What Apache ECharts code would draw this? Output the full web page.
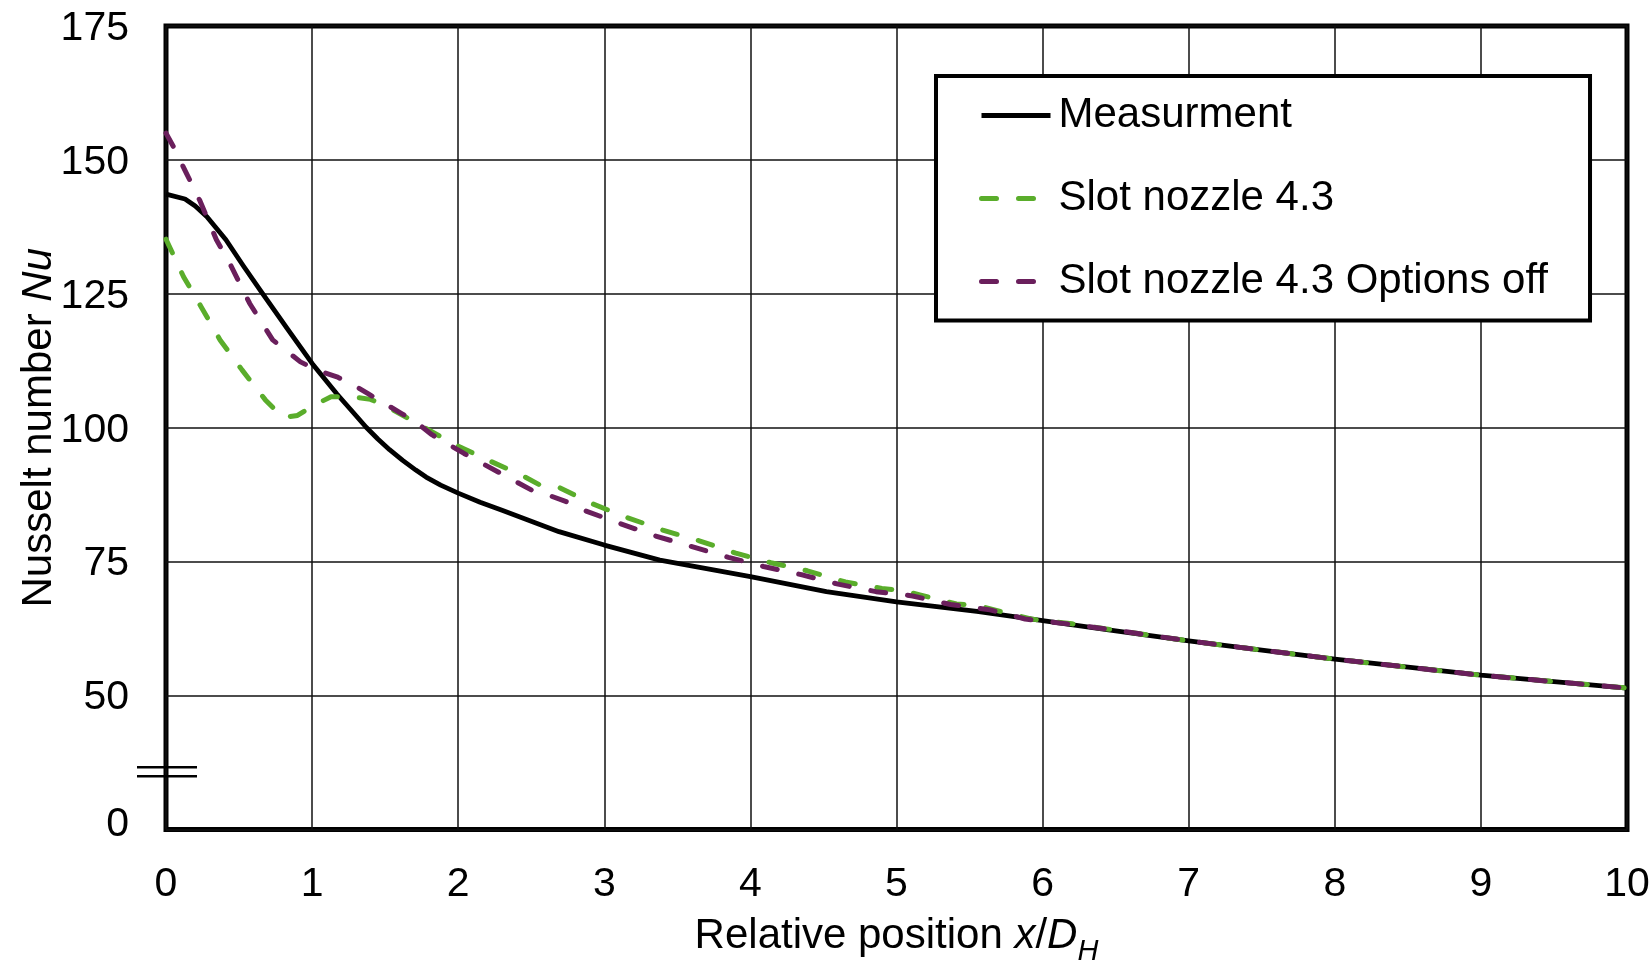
<!DOCTYPE html>
<html>
<head>
<meta charset="utf-8">
<script src="https://cdn.jsdelivr.net/npm/echarts@6/dist/echarts.min.js"></script>
<style>
  html, body { margin: 0; padding: 0; background: #fff; }
  #nu-chart { width: 1651px; height: 962px; }
</style>
</head>
<body>
<div id="nu-chart"></div>
<script>
// axis ticks (the bottom tick 25 is shown as "0" because of the axis break)
const xTicks = [0, 1, 2, 3, 4, 5, 6, 7, 8, 9, 10]
const yTicks = [25, 50, 75, 100, 125, 150, 175]

// Measurment
const measX = [0, 0.13, 0.2, 0.28, 0.41, 0.53, 0.66, 0.83, 1.0, 1.17, 1.28, 1.37, 1.45, 1.53, 1.62, 1.71, 1.78, 1.88, 2.0, 2.15, 2.3, 2.69, 3.0, 3.38, 4.0, 4.52, 5.0, 5.55, 6.0, 6.5, 7.0, 7.5, 8.0, 8.58, 9.0, 9.5, 10]
const measY = [143.6, 142.7, 141.4, 139.4, 135.1, 130.2, 125.1, 118.5, 112.0, 106.3, 102.9, 100.1, 97.9, 95.9, 93.9, 92.1, 90.8, 89.3, 87.8, 86.1, 84.6, 80.6, 78.1, 75.3, 72.2, 69.4, 67.5, 65.7, 64.0, 62.1, 60.2, 58.5, 56.8, 55.1, 53.8, 52.6, 51.4]

// Slot nozzle 4.3
const slotX = [0, 0.12, 0.24, 0.37, 0.52, 0.68, 0.8, 0.9, 1.0, 1.13, 1.27, 1.4, 1.51, 1.74, 1.96, 2.2, 2.43, 2.56, 2.68, 2.91, 3.15, 3.4, 3.65, 3.9, 4.14, 4.39, 4.65, 4.9, 5.04, 5.16, 5.41, 5.56, 5.67, 5.92, 6.2, 6.5, 7, 7.5, 8, 8.5, 9, 9.5, 10]
const slotY = [135.2, 128.2, 122.6, 116.4, 110.8, 105.2, 101.9, 102.3, 104.0, 105.8, 105.8, 105.3, 104.0, 100.5, 97.1, 94.0, 91.2, 89.3, 89.0, 85.9, 83.3, 80.9, 78.9, 76.6, 74.8, 73.3, 71.2, 70.0, 69.6, 68.8, 67.1, 66.8, 66.0, 64.3, 63.4, 62.2, 60.2, 58.5, 56.8, 55.3, 53.8, 52.6, 51.4]

// Slot nozzle 4.3 Options off
const offX = [0, 0.05, 0.14, 0.23, 0.345, 0.436, 0.573, 0.73, 0.8, 0.92, 1.03, 1.17, 1.27, 1.38, 1.51, 1.61, 1.71, 1.82, 1.92, 2.04, 2.16, 2.27, 2.37, 2.5, 2.61, 2.74, 2.85, 3.11, 3.35, 3.6, 3.85, 4.09, 4.36, 4.6, 4.86, 5.11, 5.37, 5.64, 5.88, 6.2, 6.5, 7, 7.5, 8, 8.5, 9, 9.5, 10]
const offY = [155.0, 152.5, 147.5, 142.5, 135.1, 130.7, 123.2, 116.4, 114.9, 112.3, 110.8, 109.5, 108.2, 106.4, 104.3, 102.7, 101.1, 98.7, 97.1, 95.2, 93.4, 91.8, 90.3, 88.4, 87.5, 86.2, 84.7, 82.1, 79.8, 77.8, 75.8, 74.1, 72.5, 70.8, 69.4, 68.6, 67.0, 66.0, 64.3, 63.3, 62.2, 60.2, 58.5, 56.8, 55.3, 53.8, 52.6, 51.4]

const FONT = 'Liberation Sans, Arial, sans-serif'

function pairs(xs, ys) {
  return xs.map((x, i) => [x, ys[i]])
}

let chart = undefined

function initChart() {
  chart = echarts.init(document.getElementById('nu-chart'))

  const option = {
    animation: false,
    backgroundColor: '#fff',
    textStyle: { fontFamily: FONT, color: '#000' },
    grid: {
      left: 166, right: 24, top: 26, bottom: 132.5,
      outerBoundsMode: 'none',
      containLabel: false,
      show: true,
      borderColor: '#000',
      borderWidth: 5
    },
    legend: {
      orient: 'vertical',
      left: 936,
      top: 76,
      padding: [18.5, 42, 18, 43],
      borderColor: '#000',
      borderWidth: 4,
      backgroundColor: '#fff',
      itemWidth: 69,
      itemHeight: 20,
      itemGap: 41,
      itemStyle: { opacity: 0 },
      lineStyle: { width: 5 },
      textStyle: { fontSize: 42, lineHeight: 42, color: '#000', fontFamily: FONT, padding: [0, 0, 0, 3] },
      data: ['Measurment', 'Slot nozzle 4.3', 'Slot nozzle 4.3 Options off']
    },
    xAxis: {
      type: 'value',
      min: xTicks[0],
      max: xTicks[xTicks.length - 1],
      interval: 1,
      axisLine: { show: false },
      axisTick: { show: false },
      splitLine: { show: true, lineStyle: { color: '#111', width: 1.5 } },
      axisLabel: {
        fontSize: 41, lineHeight: 41, color: '#000', margin: 35, fontFamily: FONT,
        formatter: v => xTicks.includes(v) ? String(v) : ''
      },
      name: '{a|Relative position }{i|x}{a|/}{i|D}{s|H}',
      nameLocation: 'middle',
      nameGap: 84,
      nameMoveOverlap: false,
      nameTextStyle: {
        verticalAlign: 'top',
        rich: {
          a: { fontSize: 42, lineHeight: 46, color: '#000', fontFamily: FONT },
          i: { fontSize: 42, lineHeight: 46, color: '#000', fontFamily: FONT, fontStyle: 'italic' },
          s: { fontSize: 29, lineHeight: 29, color: '#000', fontFamily: FONT, fontStyle: 'italic', padding: [31, 0, 0, 0] }
        }
      }
    },
    yAxis: {
      type: 'value',
      min: yTicks[0],
      max: yTicks[yTicks.length - 1],
      interval: 25,
      axisLine: { show: false },
      axisTick: { show: false },
      splitLine: { show: true, lineStyle: { color: '#111', width: 1.5 } },
      axisLabel: {
        fontSize: 41, color: '#000', margin: 37, fontFamily: FONT,
        padding: [5, 0, 0, 0],
        formatter: v => v === yTicks[0] ? '{z|0}' : String(v),
        rich: {
          z: { fontSize: 41, color: '#000', fontFamily: FONT, padding: [0, 0, 14, 0] }
        }
      },
      name: '{a|Nusselt number }{i|Nu}',
      nameLocation: 'middle',
      nameRotate: 90,
      nameGap: 104,
      nameMoveOverlap: false,
      nameTextStyle: {
        rich: {
          a: { fontSize: 42, lineHeight: 46, color: '#000', fontFamily: FONT },
          i: { fontSize: 42, lineHeight: 46, color: '#000', fontFamily: FONT, fontStyle: 'italic' }
        }
      }
    },
    series: [
      {
        name: 'Measurment',
        type: 'line',
        data: pairs(measX, measY),
        showSymbol: false,
        symbol: 'none',
        smooth: false,
        lineStyle: { color: '#000', width: 4.8, join: 'round' },
        itemStyle: { color: '#000' },
        z: 3
      },
      {
        name: 'Slot nozzle 4.3',
        type: 'line',
        data: pairs(slotX, slotY),
        showSymbol: false,
        symbol: 'none',
        lineStyle: { color: '#5aad2b', width: 5, type: [15, 22], cap: 'round', join: 'round' },
        itemStyle: { color: '#5aad2b' },
        z: 4
      },
      {
        name: 'Slot nozzle 4.3 Options off',
        type: 'line',
        data: pairs(offX, offY),
        showSymbol: false,
        symbol: 'none',
        lineStyle: { color: '#6a1f5c', width: 5, type: [15, 22], cap: 'round', join: 'round' },
        itemStyle: { color: '#6a1f5c' },
        z: 5
      }
    ]
  }

  chart.setOption(option)

  // axis break marks (two short lines across the y axis)
  const mid = chart.convertToPixel({ gridIndex: 0 }, [0, 35.8])
  const mk = dy => ({
    type: 'line',
    shape: { x1: mid[0] - 29, y1: mid[1] + dy, x2: mid[0] + 31, y2: mid[1] + dy },
    style: { stroke: '#000', lineWidth: 2.5 },
    z: 100
  })
  chart.setOption({ graphic: [mk(-4.5), mk(4.5)] })
}

initChart()
</script>
</body>
</html>
